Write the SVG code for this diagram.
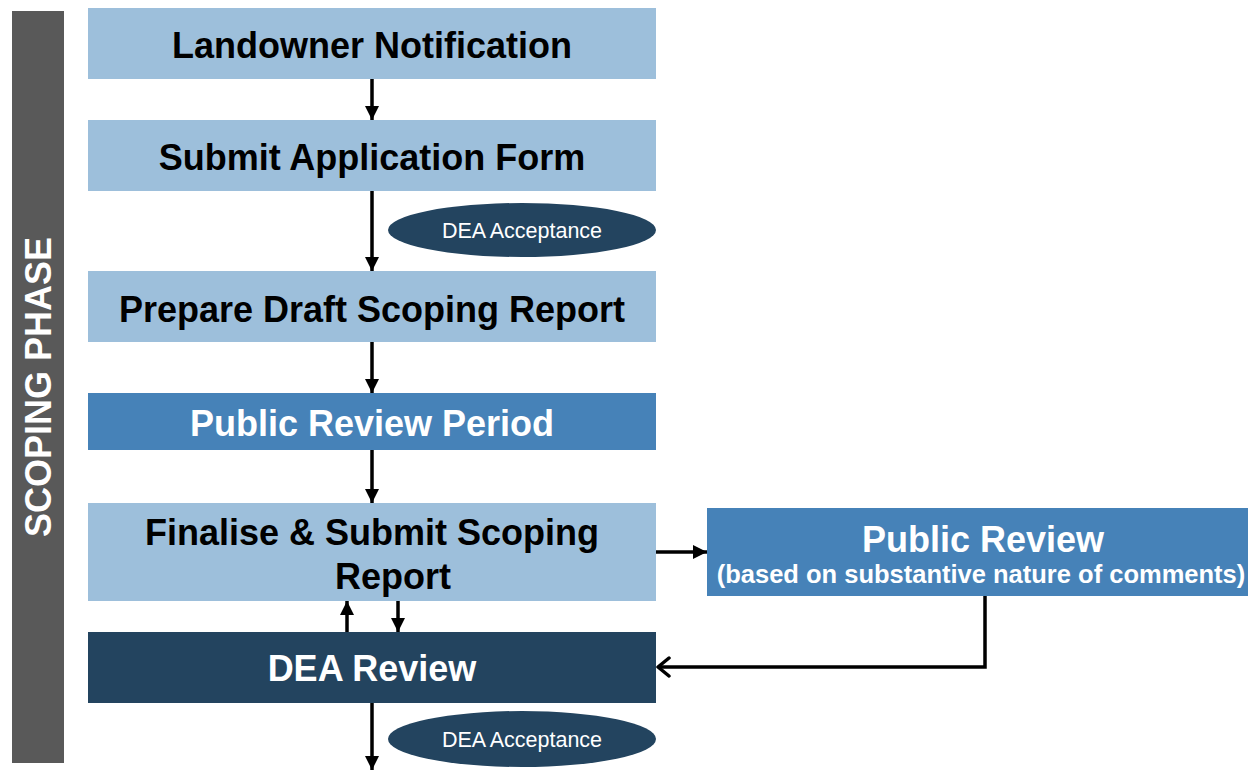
<svg xmlns="http://www.w3.org/2000/svg" width="1248" height="770" viewBox="0 0 1248 770">
<defs>
<marker id="tri" markerWidth="14" markerHeight="14" viewBox="0 0 14 14" refX="14" refY="7" orient="auto" markerUnits="userSpaceOnUse">
<path d="M0,0 L14,7 L0,14 Z" fill="#000"/>
</marker>
<marker id="open" markerWidth="16" markerHeight="22" viewBox="0 0 16 22" refX="14" refY="11" orient="auto" markerUnits="userSpaceOnUse">
<path d="M3,2 L14,11 L3,20" fill="none" stroke="#000" stroke-width="3.5" stroke-linecap="round" stroke-linejoin="round"/>
</marker>
</defs>
<style>
.lb{fill:#9DBFDB}
.mb{fill:#4682B8}
.db{fill:#23445F}
.t{font-family:"Liberation Sans",Arial,sans-serif;font-weight:bold;font-size:36px;text-anchor:middle}
.k{fill:#000}
.w{fill:#fff}
.e{font-family:"Liberation Sans",Arial,sans-serif;font-size:21.5px;fill:#fff;text-anchor:middle}
.c{stroke:#000;stroke-width:3.5;fill:none}
</style>
<rect width="1248" height="770" fill="#fff"/>
<g id="phase">
<rect x="12" y="11" width="52" height="752" fill="#595959"/>
<text class="t w" transform="translate(51,387) rotate(-90)">SCOPING PHASE</text>
</g>
<g id="connectors">
<line class="c" x1="372" y1="79" x2="372" y2="120" marker-end="url(#tri)"/>
<line class="c" x1="372" y1="191" x2="372" y2="271" marker-end="url(#tri)"/>
<line class="c" x1="372" y1="342" x2="372" y2="393" marker-end="url(#tri)"/>
<line class="c" x1="372" y1="450" x2="372" y2="503" marker-end="url(#tri)"/>
<line class="c" x1="398" y1="601" x2="398" y2="632" marker-end="url(#tri)"/>
<line class="c" x1="347" y1="632" x2="347" y2="601" marker-end="url(#tri)"/>
<line class="c" x1="372" y1="703" x2="372" y2="770" marker-end="url(#tri)"/>
<line class="c" x1="656" y1="552" x2="707" y2="552" marker-end="url(#tri)"/>
<polyline class="c" points="985,596 985,667 658,667" marker-end="url(#open)"/>
</g>
<g id="n1">
<rect class="lb" x="88" y="8" width="568" height="71"/>
<text class="t k" x="372" y="58">Landowner Notification</text>
</g>
<g id="n2">
<rect class="lb" x="88" y="120" width="568" height="71"/>
<text class="t k" x="372" y="170">Submit Application Form</text>
</g>
<g id="e1">
<ellipse class="db" cx="522" cy="230" rx="134" ry="27"/>
<text class="e" x="522" y="238">DEA Acceptance</text>
</g>
<g id="n3">
<rect class="lb" x="88" y="271" width="568" height="71"/>
<text class="t k" x="372" y="322">Prepare Draft Scoping Report</text>
</g>
<g id="n4">
<rect class="mb" x="88" y="393" width="568" height="57"/>
<text class="t w" x="372" y="436">Public Review Period</text>
</g>
<g id="n5">
<rect class="lb" x="88" y="503" width="568" height="98"/>
<text class="t k" x="372" y="545">Finalise &amp; Submit Scoping</text>
<text class="t k" x="393" y="589">Report</text>
</g>
<g id="n6">
<rect class="mb" x="707" y="508" width="541" height="88"/>
<text class="t w" x="983" y="552">Public Review</text>
<text class="t w" x="981" y="583" style="font-size:25.5px">(based on substantive nature of comments)</text>
</g>
<g id="n7">
<rect class="db" x="88" y="632" width="568" height="71"/>
<text class="t w" x="372" y="681">DEA Review</text>
</g>
<g id="e2">
<ellipse class="db" cx="522" cy="739" rx="134" ry="28"/>
<text class="e" x="522" y="747">DEA Acceptance</text>
</g>
</svg>
